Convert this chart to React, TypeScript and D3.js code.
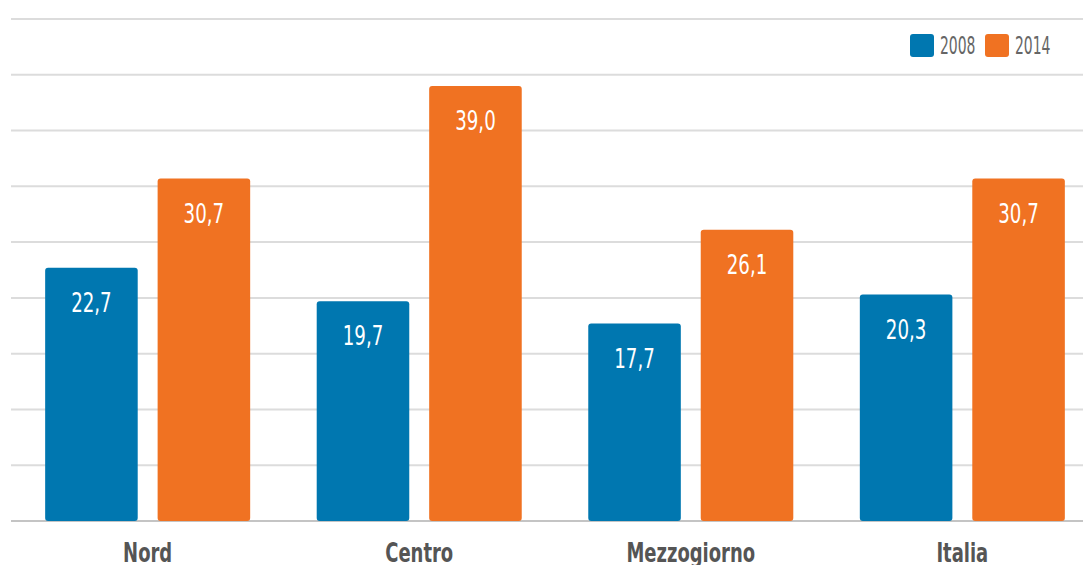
import { useEffect, useRef } from 'react';
import * as d3 from 'd3';

const categories = ['Nord', 'Centro', 'Mezzogiorno', 'Italia'];
const seriesKeys = ['2008', '2014'];
const values2008 = [22.7, 19.7, 17.7, 20.3];
const values2014 = [30.7, 39.0, 26.1, 30.7];
const colors = ['#0077b0', '#f07222'];
const gridTicks = [0, 5, 10, 15, 20, 25, 30, 35, 40, 45];

const WIDTH = 1083;
const HEIGHT = 565;
const FONT = '"DejaVu Sans Condensed", "DejaVu Sans", sans-serif';
const SQUEEZE = 0.75; // the original uses a narrow DIN-like face

// squeeze text horizontally to mimic a condensed font
function condense(sel: d3.Selection<SVGTextElement, any, any, any>, k = SQUEEZE) {
  sel.each(function () {
    const w = this.getComputedTextLength();
    d3.select(this).attr('textLength', w * k).attr('lengthAdjust', 'spacingAndGlyphs');
  });
}

export default function App() {
  const svgRef = useRef<SVGSVGElement>(null);

  useEffect(() => {
    if (!svgRef.current) return;
    const svg = d3.select(svgRef.current);
    svg.selectAll('*').remove();

    const x0 = d3.scaleBand<string>().domain(categories).range([18, 1092]).paddingInner(0.245).paddingOuter(0.1);
    const x1 = d3.scaleBand<string>().domain(seriesKeys).range([0, x0.bandwidth()]).paddingInner(0.177);
    const y = d3.scaleLinear().domain([0, 45]).range([521, 19]);

    // grid lines
    svg.append('g')
      .selectAll('line')
      .data(gridTicks)
      .enter()
      .append('line')
      .attr('x1', 11)
      .attr('x2', WIDTH)
      .attr('y1', (d) => y(d))
      .attr('y2', (d) => y(d))
      .attr('stroke', (d) => (d === 0 ? '#c4c4c4' : '#dcdcdc'))
      .attr('stroke-width', 2);

    const rows = categories.map((c, i) => ({ cat: c, vals: [values2008[i], values2014[i]] }));

    const groups = svg.append('g')
      .selectAll('g')
      .data(rows)
      .enter()
      .append('g')
      .attr('transform', (d) => `translate(${x0(d.cat)},0)`);

    groups.selectAll('rect')
      .data((d) => d.vals.map((v, j) => ({ key: seriesKeys[j], v, j })))
      .enter()
      .append('rect')
      .attr('x', (d) => x1(d.key)!)
      .attr('y', (d) => y(d.v))
      .attr('width', x1.bandwidth())
      .attr('height', (d) => y(0) - y(d.v))
      .attr('rx', 3)
      .attr('fill', (d) => colors[d.j]);

    const valLabels = groups.selectAll('text.val')
      .data((d) => d.vals.map((v, j) => ({ key: seriesKeys[j], v, j })))
      .enter()
      .append('text')
      .attr('class', 'val')
      .attr('x', (d) => x1(d.key)! + x1.bandwidth() / 2)
      .attr('y', (d) => y(d.v) + 44)
      .attr('text-anchor', 'middle')
      .style('font-family', FONT)
      .style('font-size', '27px')
      .style('fill', '#fff')
      .text((d) => d.v.toFixed(1).replace('.', ','));
    condense(valLabels as any);

    // category labels
    const catLabels = svg.append('g')
      .selectAll('text')
      .data(categories)
      .enter()
      .append('text')
      .attr('x', (d) => x0(d)! + x0.bandwidth() / 2)
      .attr('y', 562)
      .attr('text-anchor', 'middle')
      .style('font-family', FONT)
      .style('font-size', '27px')
      .style('font-weight', 'bold')
      .style('fill', '#555')
      .text((d) => d);
    condense(catLabels as any, 0.74);

    // legend
    const legend = svg.append('g').attr('transform', 'translate(910,34)');
    const item = legend.selectAll('g')
      .data(seriesKeys)
      .enter()
      .append('g')
      .attr('transform', (_d, i) => `translate(${i * 75},0)`);
    item.append('rect')
      .attr('width', 24)
      .attr('height', 23)
      .attr('rx', 3)
      .attr('fill', (_d, i) => colors[i]);
    const legText = item.append('text')
      .attr('x', 30)
      .attr('y', 20)
      .style('font-family', FONT)
      .style('font-size', '25px')
      .style('fill', '#666')
      .text((d) => d);
    condense(legText as any, 0.62);
  }, []);

  return (
    <svg
      ref={svgRef}
      width={WIDTH}
      height={HEIGHT}
      style={{ position: 'absolute', left: 0, top: 0, background: '#fff' }}
    />
  );
}
